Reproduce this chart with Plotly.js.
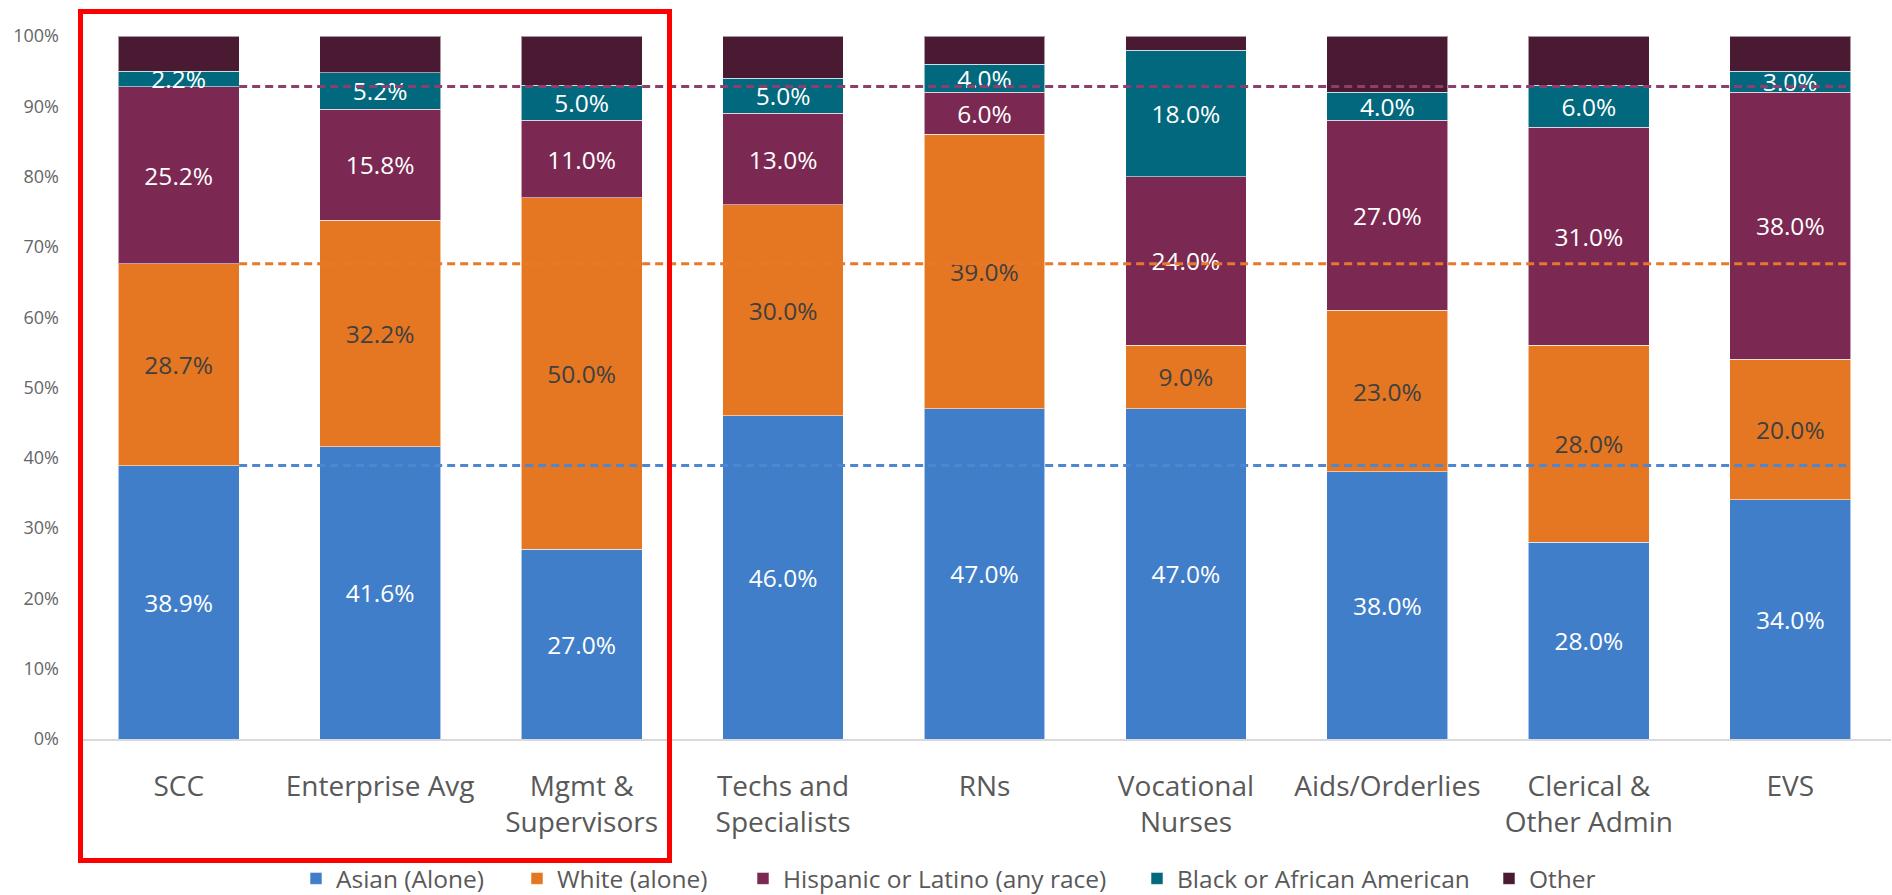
<!DOCTYPE html>
<html>
<head>
<meta charset="utf-8">
<script src="https://cdn.plot.ly/plotly-3.0.1.min.js"></script>
<style>
  html, body { margin: 0; padding: 0; background: #ffffff; }
  #chart { width: 1892px; height: 895px; }
</style>
</head>
<body>
<div id="chart"></div>
<script>
// ---- data ----
const categories = ['SCC', 'Enterprise Avg', 'Mgmt &<br>Supervisors', 'Techs and<br>Specialists', 'RNs',
                    'Vocational<br>Nurses', 'Aids/Orderlies', 'Clerical &<br>Other Admin', 'EVS'];
const asian    = [38.9, 41.6, 27.0, 46.0, 47.0, 47.0, 38.0, 28.0, 34.0];
const white    = [28.7, 32.2, 50.0, 30.0, 39.0,  9.0, 23.0, 28.0, 20.0];
const hispanic = [25.2, 15.8, 11.0, 13.0,  6.0, 24.0, 27.0, 31.0, 38.0];
const black    = [ 2.2,  5.2,  5.0,  5.0,  4.0, 18.0,  4.0,  6.0,  3.0];
const other    = [ 5.0,  5.2,  7.0,  6.0,  4.0,  2.0,  8.0,  7.0,  5.0];
const seriesNames = ['Asian (Alone)', 'White (alone)', 'Hispanic or Latino (any race)', 'Black or African American', 'Other'];
const yTicks = [0, 10, 20, 30, 40, 50, 60, 70, 80, 90, 100];

// ---- styles ----
const FONT = 'Open Sans, Lato, sans-serif';
const colors = ['#407EC9', '#E67722', '#7B2852', '#02687D', '#4A1A33'];
const labelColors = ['#ffffff', '#404040', '#ffffff', '#ffffff', '#ffffff'];
const refColors = ['#4F86D0', '#E8792A', '#8E3E6E'];
const legendLeft = [296, 517, 743, 1137, 1489]; // px positions of legend entries
const plotL = 78, plotR = 1891, plotT = 36, plotB = 739;
const xs = categories.map((c, i) => i);
const barWidth = 0.6;

const series = [asian, white, hispanic, black, other];
const traces = series.map((vals, k) => ({
  type: 'bar',
  name: seriesNames[k],
  x: xs,
  y: vals,
  width: barWidth,
  marker: { color: colors[k], line: { color: 'rgba(255,255,255,0.55)', width: 1 } },
  text: k < 4 ? vals.map(v => v.toFixed(1) + '%') : undefined,
  textposition: k < 4 ? 'inside' : 'none',
  insidetextanchor: 'middle',
  textangle: 0,
  constraintext: 'none',
  textfont: { family: FONT, size: 24.5, color: labelColors[k] },
  hoverinfo: 'skip',
  legend: k === 0 ? 'legend' : 'legend' + (k + 1)
}));

// Reference dashed lines at SCC cumulative values
let cum = 0;
[asian, white, hispanic].forEach((vals, k) => {
  cum += vals[0];
  traces.push({
    type: 'scatter',
    mode: 'lines',
    x: [xs[0] + barWidth / 2, xs[xs.length - 1] + barWidth / 2],
    y: [cum, cum],
    line: { color: refColors[k], width: 3, dash: '8px,5px' },
    showlegend: false,
    hoverinfo: 'skip'
  });
});

const plotW = plotR - plotL, plotH = plotB - plotT;
const layout = {
  width: 1892,
  height: 895,
  margin: { l: plotL, r: 1892 - plotR, t: plotT, b: 895 - plotB, pad: 0, autoexpand: false },
  paper_bgcolor: '#ffffff',
  plot_bgcolor: '#ffffff',
  barmode: 'stack',
  bargap: 0.4,
  font: { family: FONT, color: '#595959' },
  xaxis: {
    range: [-0.5, categories.length - 0.5],
    tickvals: xs,
    ticktext: categories,
    showgrid: false,
    zeroline: false,
    showline: true,
    linecolor: '#D9D9D9',
    linewidth: 2,
    ticks: '',
    ticklabelstandoff: 21,
    tickfont: { family: FONT, size: 28, color: '#595959' },
    automargin: false,
    fixedrange: true
  },
  yaxis: {
    range: [0, 100],
    tickvals: yTicks,
    ticktext: yTicks.map(v => v + '%'),
    showgrid: false,
    zeroline: false,
    showline: false,
    ticks: '',
    ticklabelstandoff: 18,
    tickfont: { family: FONT, size: 18, color: '#666666' },
    automargin: false,
    fixedrange: true
  },
  shapes: [{
    type: 'rect',
    xref: 'paper', yref: 'paper',
    x0: (80.5 - plotL) / plotW, x1: (669.5 - plotL) / plotW,
    y0: (plotB - 860.5) / plotH, y1: (plotB - 11.5) / plotH,
    line: { color: '#FF0000', width: 5 },
    fillcolor: 'rgba(0,0,0,0)',
    layer: 'above'
  }],
  showlegend: true
};

legendLeft.forEach((px, k) => {
  const key = k === 0 ? 'legend' : 'legend' + (k + 1);
  layout[key] = {
    orientation: 'h',
    x: (px - plotL) / plotW,
    xanchor: 'left',
    y: (plotB - 901) / plotH,
    yanchor: 'bottom',
    maxheight: 120,
    font: { family: FONT, size: 24.5, color: '#595959' },
    bgcolor: 'rgba(0,0,0,0)',
    borderwidth: 0,
    itemclick: false,
    itemdoubleclick: false
  };
});

Plotly.newPlot('chart', traces, layout, { displayModeBar: false, staticPlot: true });
</script>
</body>
</html>
